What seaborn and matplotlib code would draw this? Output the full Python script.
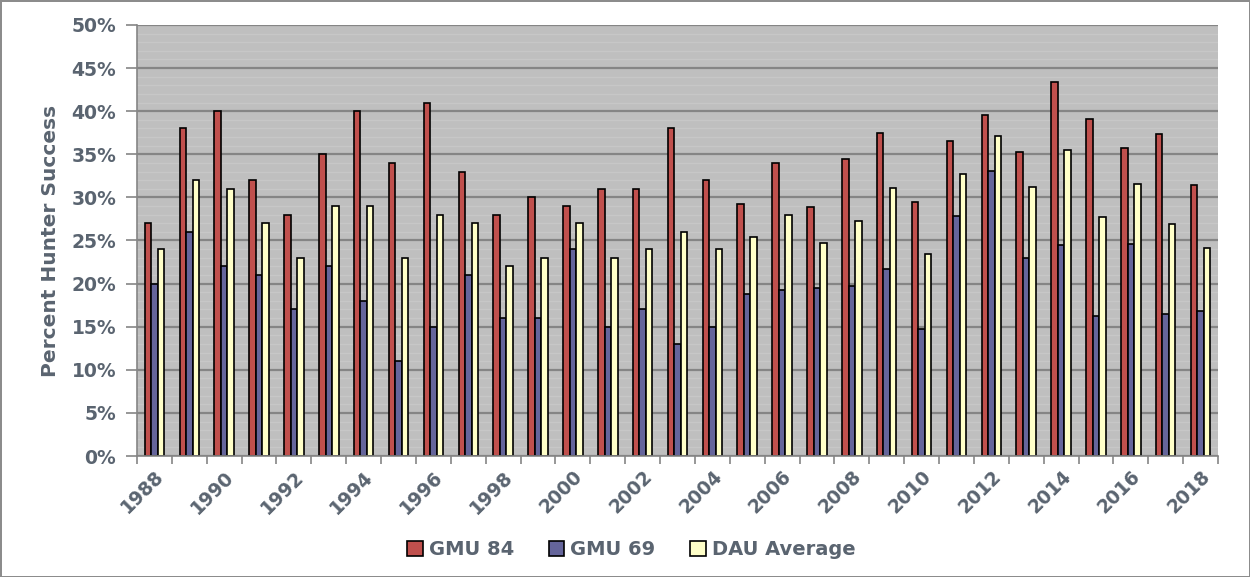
import numpy as np
import pandas as pd
import seaborn as sns
import matplotlib.pyplot as plt
from matplotlib.ticker import MultipleLocator, FixedLocator, PercentFormatter
from matplotlib.patches import Patch

years = list(range(1988, 2019))
gmu84 = [27, 38, 40, 32, 28, 35, 40, 34, 41, 33, 28, 30, 29, 31, 31, 38,
         32, 29.2, 34.0, 28.9, 34.4, 37.5, 29.5, 36.5, 39.6, 35.3, 43.4,
         39.1, 35.7, 37.3, 31.4]
gmu69 = [20, 26, 22, 21, 17, 22, 18, 11, 15, 21, 16, 16, 24, 15, 17, 13,
         15, 18.8, 19.3, 19.5, 19.7, 21.7, 14.7, 27.8, 33.1, 23.0, 24.5,
         16.2, 24.6, 16.5, 16.8]
dau_avg = [24, 32, 31, 27, 23, 29, 29, 23, 28, 27, 22, 23, 27, 23, 24, 26,
           24, 25.4, 27.9, 24.7, 27.3, 31.1, 23.4, 32.7, 37.1, 31.2, 35.5,
           27.7, 31.6, 26.9, 24.1]
series_names = ['GMU 84', 'GMU 69', 'DAU Average']
colors = ['#C0504D', '#65659B', '#FFFFC8']

df = pd.DataFrame({'Year': years, 'GMU 84': gmu84, 'GMU 69': gmu69, 'DAU Average': dau_avg})
long_df = df.melt(id_vars='Year', var_name='Series', value_name='Success')

text_color = '#5A6470'
grid_color = '#858585'

fig = plt.figure(figsize=(12.5, 5.77), dpi=100, edgecolor='#8C8C8C', linewidth=2)
ax = fig.add_axes([0.1096, 0.2097, 0.8648, 0.747])

sns.barplot(data=long_df, x='Year', y='Success', hue='Series', hue_order=series_names,
            palette=colors, width=0.56, edgecolor='black', linewidth=1.2,
            ax=ax, legend=False, saturation=1)

ax.set_facecolor('#BFBFBF')
ax.set_ylim(0, 50)
ax.set_xlim(-0.5, len(years) - 0.5)

# major gridlines every 5%, faint stripes every 1%
ax.yaxis.set_major_locator(MultipleLocator(5))
ax.yaxis.set_minor_locator(MultipleLocator(1))
ax.yaxis.set_major_formatter(PercentFormatter(decimals=0))
ax.grid(axis='y', which='major', color=grid_color, linewidth=1.6)
ax.grid(axis='y', which='minor', color='#C7C7C7', linewidth=1.0)
ax.set_axisbelow(True)

# x tick marks at category boundaries, labels every other year
ax.xaxis.set_major_locator(FixedLocator(range(0, len(years), 2)))
ax.set_xticklabels([str(y) for y in years[::2]])
ax.xaxis.set_minor_locator(FixedLocator(np.arange(-0.5, len(years), 1)))
ax.tick_params(axis='x', which='major', length=0, pad=8)
ax.tick_params(axis='x', which='minor', length=6, color=grid_color, width=1.2)
ax.tick_params(axis='y', which='major', length=8, color=grid_color, width=1.2, pad=7)
ax.tick_params(axis='y', which='minor', length=0)

for lbl in ax.get_xticklabels():
    lbl.set_rotation(45)
    lbl.set_ha('right')
    lbl.set_rotation_mode('anchor')
for lbl in ax.get_xticklabels() + ax.get_yticklabels():
    lbl.set_fontsize(13.5)
    lbl.set_fontweight('bold')
    lbl.set_color(text_color)

for side in ['top', 'right']:
    ax.spines[side].set_visible(False)
for side in ['left', 'bottom']:
    ax.spines[side].set_color(grid_color)
    ax.spines[side].set_linewidth(1.2)

ax.set_xlabel('')
ax.set_ylabel('Percent Hunter Success', fontsize=14.5, fontweight='bold', color=text_color, labelpad=8)

handles = [Patch(facecolor=c, edgecolor='black', linewidth=1.2) for c in colors]
fig.legend(handles, series_names, loc='center', bbox_to_anchor=(0.505, 0.047), ncol=3,
           frameon=False, handlelength=0.8, handleheight=0.8, handletextpad=0.3,
           columnspacing=1.8, prop={'size': 14, 'weight': 'bold'}, labelcolor=text_color)

fig.savefig('out.png', dpi=100, edgecolor=fig.get_edgecolor())
